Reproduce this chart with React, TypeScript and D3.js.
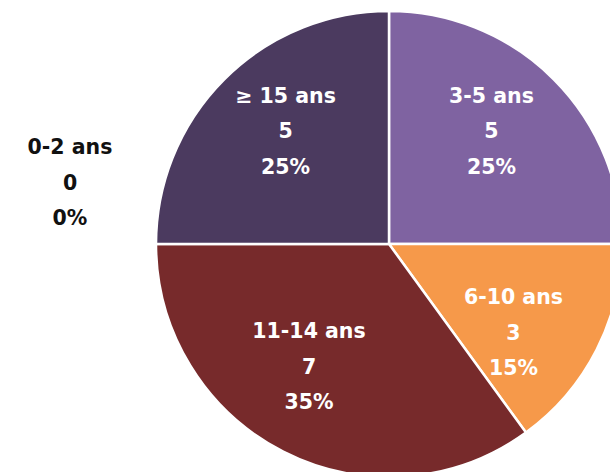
import React from "react";
import * as d3 from "d3";

const categories = ["0-2 ans", "3-5 ans", "6-10 ans", "11-14 ans", "≥ 15 ans"];
const values = [0, 5, 3, 7, 5];
const percents = ["0%", "25%", "15%", "35%", "25%"];
const colors = ["#9b8bb5", "#7f63a1", "#f6994a", "#772a2b", "#4b3a5f"];

const W = 610, H = 472;
const cx = 389, cy = 244, R = 233;

export default function App() {
  const pie = d3.pie<number>().value((d) => d).sort(null).startAngle(0).endAngle(2 * Math.PI);
  const arcs = pie(values);
  const arc = d3.arc<d3.PieArcDatum<number>>().innerRadius(0).outerRadius(R);
  const labelArc = d3.arc<d3.PieArcDatum<number>>().innerRadius(2 * 152).outerRadius(0);
  const font = "'DejaVu Sans', sans-serif";
  const lh = 35.5;
  const nudge: [number, number][] = [[0, 0], [-5, -6], [-11, 19], [-11, -13], [4, -6]];
  return (
    <div style={{ position: "absolute", left: 0, top: 0, width: W, height: H, overflow: "hidden", background: "#fff" }}>
      <svg width={W} height={H} style={{ display: "block" }}>
        <g transform={`translate(${cx},${cy})`}>
          {arcs.map((a, i) =>
            a.value > 0 ? (
              <path key={i} d={arc(a) || ""} fill={colors[i]} stroke="#fff" strokeWidth={2.5} strokeLinejoin="round" />
            ) : null
          )}
          {arcs.map((a, i) => {
            let x: number, y: number, fill: string;
            if (a.value === 0) {
              x = -R - 86;
              y = -62;
              fill = "#111";
            } else {
              const c = labelArc.centroid(a);
              x = c[0] + nudge[i][0];
              y = c[1] + nudge[i][1];
              fill = "#fff";
            }
            return (
              <text key={"t" + i} x={x} y={y} textAnchor="middle" fill={fill} fontFamily={font} fontWeight={700} fontSize={20.5}>
                <tspan x={x} dy={-lh + 7.5}>{categories[i]}</tspan>
                <tspan x={x} dy={lh}>{String(values[i])}</tspan>
                <tspan x={x} dy={lh}>{percents[i]}</tspan>
              </text>
            );
          })}
        </g>
      </svg>
    </div>
  );
}
